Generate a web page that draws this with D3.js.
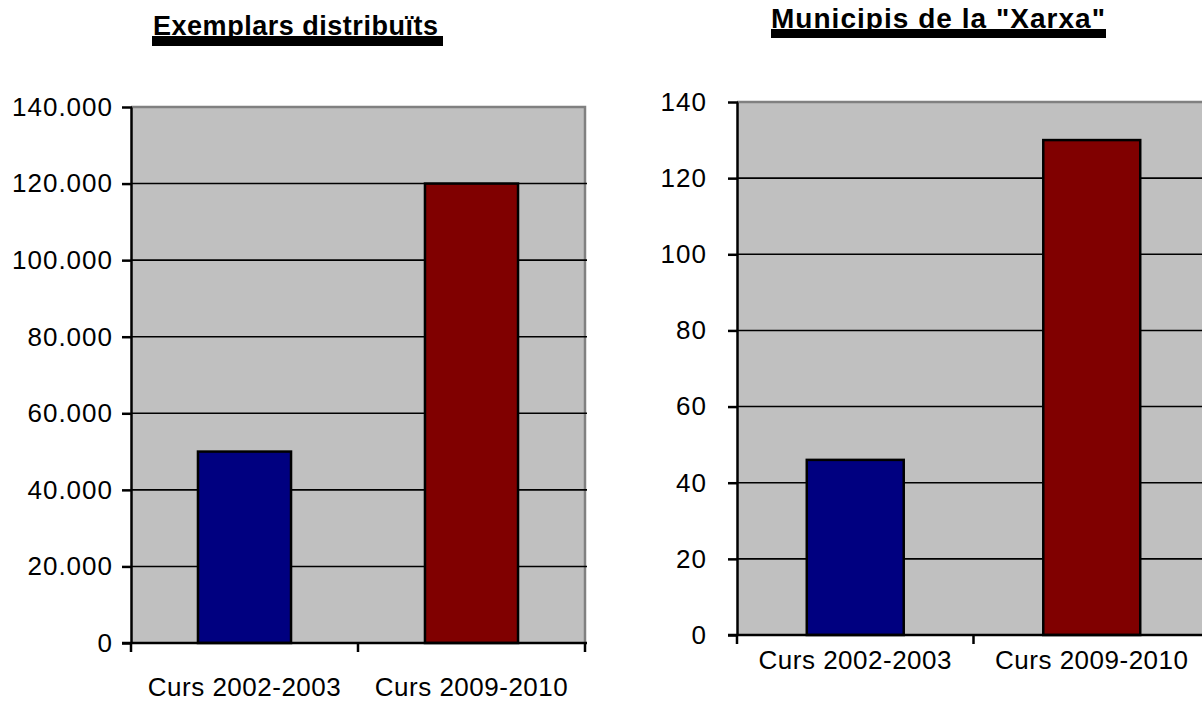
<!DOCTYPE html>
<html>
<head>
<meta charset="utf-8">
<script src="https://cdn.jsdelivr.net/npm/d3@7"></script>
<style>
  html, body { margin: 0; padding: 0; background: #ffffff; }
  svg { display: block; }
</style>
</head>
<body>
<svg id="chart" width="1202" height="701"></svg>
<script>
// ---- Data ----
const categories = ["Curs 2002-2003", "Curs 2009-2010"];
const exemplarsValues = [50000, 120000];
const municipisValues = [46, 130];
const exemplarsTicks = [0, 20000, 40000, 60000, 80000, 100000, 120000, 140000];
const municipisTicks = [0, 20, 40, 60, 80, 100, 120, 140];
const barColors = ["#000080", "#800000"];
const titleLeft = "Exemplars distribuïts";
const titleRight = "Municipis de la \"Xarxa\"";

const fmt = d3.formatLocale({ decimal: ",", thousands: ".", grouping: [3], currency: ["", "€"] }).format(",");
const svg = d3.select("#chart");

function drawChart(cfg) {
  const g = svg.append("g");
  const x = d3.scaleBand().domain(categories).range([cfg.x0, cfg.x1]).padding(0);
  const y = d3.scaleLinear().domain([0, d3.max(cfg.ticks)]).range([cfg.yBottom, cfg.yTop]);

  // plot background
  g.append("rect")
    .attr("x", cfg.x0).attr("y", cfg.yTop)
    .attr("width", cfg.x1 - cfg.x0).attr("height", cfg.yBottom - cfg.yTop)
    .attr("fill", "#c0c0c0");
  // top/right gray border
  g.append("path")
    .attr("d", `M${cfg.x0},${cfg.yTop}H${cfg.x1}V${cfg.yBottom}`)
    .attr("fill", "none").attr("stroke", "#808080").attr("stroke-width", 2.5);

  // gridlines
  g.selectAll("line.grid").data(cfg.ticks.filter(t => t > 0 && t < d3.max(cfg.ticks)))
    .join("line").attr("class", "grid")
    .attr("x1", cfg.x0).attr("x2", cfg.x1 + 2)
    .attr("y1", d => y(d)).attr("y2", d => y(d))
    .attr("stroke", "#000").attr("stroke-width", 1.6);

  // bars
  const bw = x.bandwidth() * 0.41;
  g.selectAll("rect.bar").data(cfg.values)
    .join("rect").attr("class", "bar")
    .attr("x", (d, i) => x(categories[i]) + x.bandwidth() / 2 - bw / 2)
    .attr("width", bw)
    .attr("y", d => y(d))
    .attr("height", d => cfg.yBottom - y(d))
    .attr("fill", (d, i) => barColors[i])
    .attr("stroke", "#000").attr("stroke-width", 2.5);

  // y axis
  const yAxis = d3.axisLeft(y).tickValues(cfg.ticks).tickFormat(cfg.format)
    .tickSize(9).tickSizeOuter(0).tickPadding(cfg.yPad);
  const ya = g.append("g").attr("transform", `translate(${cfg.x0},0)`).call(yAxis);
  ya.select(".domain").attr("stroke", "#000").attr("stroke-width", 2.5);
  ya.selectAll(".tick line").attr("stroke", "#000").attr("stroke-width", 2.5).attr("x2", -9).attr("x1", 1);
  ya.selectAll(".tick text")
    .attr("font-family", "Liberation Sans, Arial, sans-serif")
    .attr("font-size", 26).attr("letter-spacing", cfg.yLetter).attr("fill", "#000");

  // x axis
  const ticksX = [cfg.x0, (cfg.x0 + cfg.x1) / 2, cfg.x1];
  g.append("line").attr("x1", cfg.x0 - 9).attr("x2", cfg.x1 + 2)
    .attr("y1", cfg.yBottom).attr("y2", cfg.yBottom)
    .attr("stroke", "#000").attr("stroke-width", 2.5);
  g.selectAll("line.xt").data(ticksX).join("line").attr("class", "xt")
    .attr("x1", d => d).attr("x2", d => d)
    .attr("y1", cfg.yBottom - 1).attr("y2", cfg.yBottom + 9)
    .attr("stroke", "#000").attr("stroke-width", 2.5);
  g.selectAll("text.xl").data(categories).join("text").attr("class", "xl")
    .attr("x", d => x(d) + x.bandwidth() / 2)
    .attr("y", cfg.labelY)
    .attr("text-anchor", "middle")
    .attr("font-family", "Liberation Sans, Arial, sans-serif")
    .attr("font-size", 26).attr("letter-spacing", 0.5)
    .attr("fill", "#000")
    .text(d => d);

  // title
  g.append("rect")
    .attr("x", cfg.ulX0).attr("y", cfg.ulY)
    .attr("width", cfg.ulX1 - cfg.ulX0).attr("height", cfg.ulH)
    .attr("fill", "#000");
  g.append("text")
    .attr("x", cfg.titleX0).attr("y", cfg.titleY)
    .attr("font-family", "Liberation Sans, Arial, sans-serif")
    .attr("font-weight", "bold").attr("font-size", cfg.titleSize)
    .attr("textLength", cfg.titleLen).attr("lengthAdjust", "spacing")
    .attr("fill", "#000")
    .text(cfg.title);
}

drawChart({
  values: exemplarsValues, ticks: exemplarsTicks, format: fmt,
  x0: 131, x1: 585, yTop: 107, yBottom: 643, yPad: 9, yLetter: 1,
  labelY: 696,
  title: titleLeft, titleX0: 153, titleY: 35, titleLen: 285, titleSize: 27,
  ulX0: 152, ulX1: 443, ulY: 36, ulH: 10
});

drawChart({
  values: municipisValues, ticks: municipisTicks, format: d => String(d),
  x0: 737, x1: 1210, yTop: 102, yBottom: 635, yPad: 21, yLetter: 1,
  labelY: 669,
  title: titleRight, titleX0: 771, titleY: 28, titleLen: 334, titleSize: 28,
  ulX0: 771, ulX1: 1106, ulY: 29, ulH: 9
});
</script>
</body>
</html>
